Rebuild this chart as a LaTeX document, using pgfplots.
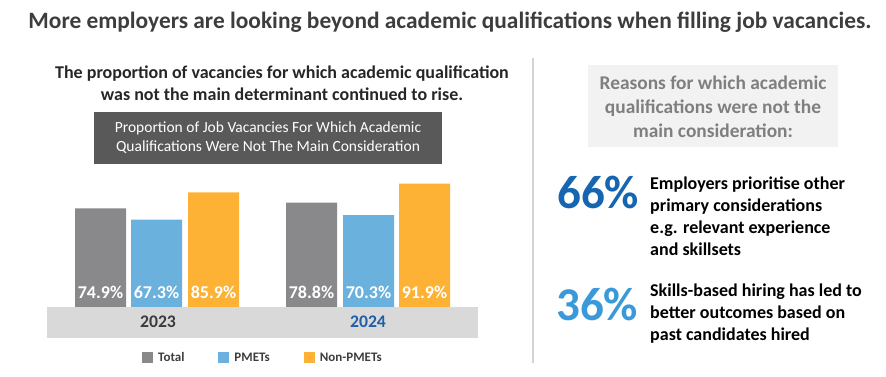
\documentclass[border=0pt]{standalone}
\usepackage{pgfplots}
\pgfplotsset{compat=1.18}
\usepackage{fontspec}
\setmainfont{Carlito}
\definecolor{titlegray}{HTML}{3D3D3D}
\definecolor{subgray}{HTML}{262626}
\definecolor{boxdark}{HTML}{595959}
\definecolor{bandgray}{HTML}{D9D9D9}
\definecolor{bartotal}{HTML}{89888B}
\definecolor{barpmet}{HTML}{6BB1DD}
\definecolor{barnon}{HTML}{FDB135}
\definecolor{yr24}{HTML}{1F5FA8}
\definecolor{sepgray}{HTML}{D3D3D3}
\definecolor{lightbox}{HTML}{F2F2F2}
\definecolor{reasongray}{HTML}{7F7F7F}
\definecolor{blueA}{HTML}{1565B0}
\definecolor{blueB}{HTML}{3A9AD9}
\begin{document}
\begin{tikzpicture}[x=1pt,y=1pt]
\path[use as bounding box] (0,0) rectangle (886,377);
% title
\node[font=\fontsize{23.4}{27}\selectfont\bfseries, text=titlegray] at (450,355) {More employers are looking beyond academic qualifications when filling job vacancies.};
% subtitle
\node[font=\fontsize{18}{22}\selectfont\bfseries, text=subgray, align=center] at (282,294) {The proportion of vacancies for which academic qualification\\was not the main determinant continued to rise.};
% dark box
\fill[boxdark] (94,213) rectangle (442,265);
\node[font=\fontsize{15.5}{19}\selectfont, text=white, align=center] at (268,239) {Proportion of Job Vacancies For Which Academic\\Qualifications Were Not The Main Consideration};
\begin{axis}[
  at={(0,0)}, anchor=south west,
  scale only axis, x=1pt, y=1.464pt,
  xmin=0, xmax=886, ymin=-40.22, ymax=130,
  axis lines=none,
  ybar, bar width=51pt, bar shift=0pt,
  clip=true,
  /pgf/number format/assume math mode=true,
  nodes near coords={\pgfmathprintnumber[fixed,precision=1,fixed zerofill]{\pgfplotspointmeta}\%},
  visualization depends on={rawy \as \rawy},
  every node near coord/.append style={font=\fontsize{18}{20}\selectfont\bfseries, text=white, anchor=center, yshift={-(\rawy-7.8)*1.464+14}},
  legend columns=3,
  legend style={at={(142/886,19/249.2)}, anchor=west, draw=none, fill=none, inner sep=0pt,
    font=\fontsize{13}{15}\selectfont\bfseries, text=titlegray,
    nodes={font=\fontsize{13}{15}\selectfont\bfseries, text=titlegray},
    /tikz/every even column/.append style={column sep=32pt}},
  legend image code/.code={\fill[#1] (0pt,-5.5pt) rectangle (11pt,5.5pt); \path (14pt,0pt);},
]
\addplot[fill=bartotal, draw=none] coordinates {(100.5,74.9) (311.5,78.8)};
\addplot[fill=barpmet, draw=none] coordinates {(156.5,67.3) (368.5,70.3)};
\addplot[fill=barnon, draw=none] coordinates {(213.5,85.9) (424.5,91.9)};
\legend{Total, PMETs, Non-PMETs}
\end{axis}
% band (drawn over the bar feet)
\fill[bandgray] (47,39.3) rectangle (478,70.3);
\node[font=\fontsize{17.7}{20}\selectfont\bfseries, text=subgray!90] at (158,55) {2023};
\node[font=\fontsize{17.7}{20}\selectfont\bfseries, text=yr24] at (368,55) {2024};
% separator
\draw[sepgray, line width=1.5pt] (533,319) -- (533,14);
% right panel
\fill[lightbox] (588,230) rectangle (838,312);
\node[font=\fontsize{19.4}{24}\selectfont\bfseries, text=reasongray, align=center] at (713,270) {Reasons for which academic\\qualifications were not the\\main consideration:};
\node[font=\fontsize{47}{50}\selectfont\bfseries, text=blueA, anchor=west, inner sep=0pt] at (557,185) {66\%};
\node[font=\fontsize{47}{50}\selectfont\bfseries, text=blueB, anchor=west, inner sep=0pt] at (556,73) {36\%};
\node[font=\fontsize{18}{22}\selectfont\bfseries, text=black, align=left, anchor=west, inner sep=0pt] at (650,161) {Employers prioritise other\\primary considerations\\e.g. relevant experience\\and skillsets};
\node[font=\fontsize{18}{22}\selectfont\bfseries, text=black, align=left, anchor=west, inner sep=0pt] at (650,63) {Skills-based hiring has led to\\better outcomes based on\\past candidates hired};
\end{tikzpicture}
\end{document}
